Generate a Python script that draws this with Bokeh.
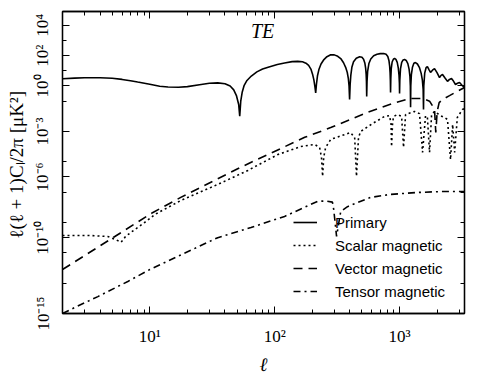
from bokeh.plotting import figure
from bokeh.models import LogAxis, FixedTicker, CustomJSTickFormatter, Label, Range1d
from bokeh.embed import file_html
from bokeh.resources import INLINE

# ---------------- data ----------------
ELL_PRIMARY = [2, 2.5, 3, 4, 5, 6, 7, 8, 10, 12, 14, 17, 20, 25, 30, 35, 40, 44, 47, 49.5, 51.5, 52.5,
               53.5, 55, 57, 60, 65, 72, 80, 90, 105, 120, 138, 153, 167, 178, 187, 195, 201, 206, 210, 213,
               216, 220, 226, 235, 248, 262, 281, 300, 320, 340, 356, 370, 381, 389, 394, 398,
               402, 407, 415, 428, 450, 479, 500, 515, 527, 535, 540, 543, 545.5,
               549, 555, 568, 588, 620, 660, 700, 745, 780, 805, 822, 833, 840, 844, 847,
               851, 858, 872, 892, 912, 935, 958, 977, 990, 997, 1000,
               1005, 1018, 1040, 1068, 1096, 1130, 1165, 1192, 1210, 1220, 1225,
               1230, 1243, 1268, 1302, 1340, 1390, 1440, 1488, 1522, 1545, 1555,
               1563, 1590, 1630, 1671, 1720, 1770, 1835, 1905, 1995, 2089, 2150, 2208, 2320,
               2420, 2510, 2605, 2700, 2805, 2910, 3020, 3150, 3311]
CL_PRIMARY = [3.0, 3.3, 3.5, 3.5, 3.2, 2.7, 2.2, 1.8, 1.3, 0.95, 0.85, 0.82, 0.9, 1.2, 1.5, 1.6, 1.4, 1.0, 0.55, 0.22, 0.06, 0.01,
              0.1, 0.4, 1.1, 2.3, 4.5, 8.5, 13, 18, 26, 33, 40, 42, 39, 32, 23, 13, 6, 2.5, 0.9, 0.35,
              1.3, 4.5, 12, 28, 55, 85, 115, 112, 90, 60, 34, 17, 8, 3, 1.0, 0.13,
              1.2, 5, 17, 40, 68, 85, 78, 58, 33, 15, 6, 2, 0.2,
              2, 9, 30, 60, 97, 122, 135, 138, 122, 88, 48, 20, 7, 2.2, 0.37,
              3, 14, 38, 58, 65, 56, 36, 15, 5, 1.5, 0.32,
              2.5, 14, 36, 52, 56, 48, 30, 13, 4.5, 1.0, 0.04,
              1.0, 5.5, 17, 31, 35, 28, 17, 7, 2.5, 0.6, 0.028,
              1.0, 7, 16, 19, 12, 7.8, 11, 14, 7.5, 3.6, 5, 5.7, 3.2,
              2.0, 2.7, 3.1, 2.1, 1.25, 1.5, 1.7, 1.15, 0.8]

ELL_SCALAR = [2, 3.2, 4.6, 5.25, 5.9, 6.4, 7.05, 8.0, 9.1, 11, 17.7, 35, 61, 106, 161, 209, 229, 237, 242, 247, 256,
              281, 405, 437, 452, 469, 488, 610, 758, 832, 855, 863, 878, 894, 962, 1038, 1076, 1117,
              1318, 1445, 1528, 1614, 1671, 1738, 1805, 1905, 2128, 2290, 2420, 2559, 2661, 2761, 2900,
              3190, 3311]
CL_SCALAR = [1.4e-10, 1.4e-10, 1.2e-10, 7.9e-11, 5e-11, 1.2e-10, 2.2e-10, 4.7e-10, 1e-9, 3.4e-9, 2.8e-8, 3.2e-7,
             2.7e-6, 3.0e-5, 1.0e-4, 1.4e-4, 8.9e-5, 2e-5, 1.1e-6, 2e-5, 8.9e-5,
             3.0e-4, 8.5e-4, 4e-4, 1.1e-6, 4e-4, 1.0e-3, 3.4e-3, 9.8e-3, 1.1e-2, 2.9e-3, 1e-4, 2.9e-3, 9.8e-3,
             1.3e-2, 9.8e-3, 8.9e-5, 1.3e-2,
             2.1e-2, 1.5e-2, 4.2e-5, 1.1e-2, 8.4e-3, 4.2e-5, 1.3e-2, 2.1e-2, 1.1e-2, 8.4e-3, 6.2e-3, 1.4e-5,
             2.9e-3, 4.2e-5, 8.4e-3, 2.8e-2, 3.3e-2]

ELL_VECTOR = [2, 4.6, 10.6, 17.7, 55, 174, 281, 552, 880, 1225, 1528, 1738, 1905, 1950, 2000, 2075, 2208,
              2512, 2900, 3311]
CL_VECTOR = [7.9e-13, 6e-11, 4.6e-9, 4.5e-8, 4.9e-6, 4.1e-4, 1.8e-3, 1.8e-2, 7.1e-2, 0.15, 0.15, 0.1, 0.03,
             8.5e-4, 0.02, 0.08, 0.13, 0.23, 0.44, 0.8]

ELL_TENSOR = [2, 2.51, 3.84, 6.67, 10, 35, 64.6, 120, 221, 260, 290, 297, 313, 338, 383, 585, 843, 1390,
              2208, 3311]
CL_TENSOR = [1e-15, 2.5e-15, 1.3e-14, 1.3e-13, 7.9e-13, 1.0e-10, 4.7e-10, 2.5e-9, 2.5e-8, 2.6e-8, 2.2e-8,
             7.2e-9, 1.2e-10, 5.4e-9, 1.1e-8, 4.5e-8, 7.1e-8, 9.5e-8, 1.1e-7, 1.1e-7]

X_TICKS = [10, 100, 1000]
X_TICK_LABELS = ["10¹", "10²", "10³"]
X_MINOR = [2, 3, 4, 5, 6, 7, 8, 9, 20, 30, 40, 50, 60, 70, 80, 90,
           200, 300, 400, 500, 600, 700, 800, 900, 2000, 3000]
Y_TICKS = [1e4, 1e2, 1e0, 1e-3, 1e-6, 1e-10, 1e-15]
Y_TICK_LABELS = ["10⁴", "10²", "10⁰", "10⁻³", "10⁻⁶", "10⁻¹⁰", "10⁻¹⁵"]
Y_MINOR = [1e4, 1e3, 1e2, 1e1, 1e0, 1e-1, 1e-3, 1e-5, 1e-7, 1e-9, 1e-11, 1e-13, 1e-15]

X_RANGE = (2, 3311)
Y_RANGE = (1e-15, 8.1e4)

SERIF = "Liberation Serif"
SANS = "Liberation Sans"

FMT_CODE = """
for (let i = 0; i < tvals.length; i++) {
  if (Math.abs(Math.log10(tvals[i]) - Math.log10(tick)) < 1e-6) { return tlabels[i]; }
}
return "";
"""

p = figure(x_axis_type="log", y_axis_type="log",
           x_range=Range1d(*X_RANGE), y_range=Range1d(*Y_RANGE),
           frame_width=402, frame_height=302,
           min_border_left=62, min_border_right=4, min_border_top=11, min_border_bottom=46,
           output_backend="svg", toolbar_location=None)

p.xgrid.visible = False
p.ygrid.visible = False
p.outline_line_color = "black"
p.outline_line_width = 1.3
p.outline_line_alpha = 1.0
p.background_fill_color = "white"
p.border_fill_color = "white"

xt = FixedTicker(ticks=X_TICKS, minor_ticks=X_MINOR)
yt = FixedTicker(ticks=Y_TICKS, minor_ticks=Y_MINOR)


def style_axis(ax):
    ax.axis_line_color = "black"
    ax.axis_line_width = 1.3
    ax.major_tick_in = 7
    ax.major_tick_out = 0
    ax.minor_tick_in = 4
    ax.minor_tick_out = 0
    ax.major_tick_line_color = "black"
    ax.minor_tick_line_color = "black"
    ax.major_tick_line_width = 1
    ax.minor_tick_line_width = 1
    ax.major_label_text_color = "black"
    ax.axis_label_text_color = "black"


xa = p.below[0]
xa.ticker = xt
xa.formatter = CustomJSTickFormatter(args=dict(tvals=X_TICKS, tlabels=X_TICK_LABELS), code=FMT_CODE)
style_axis(xa)
xa.major_label_text_font = SERIF
xa.major_label_text_font_size = "17px"
xa.major_label_standoff = 13
xa.axis_label = "ℓ"
xa.axis_label_text_font = SERIF
xa.axis_label_text_font_style = "italic"
xa.axis_label_text_font_size = "19px"
xa.axis_label_standoff = 5

ya = p.left[0]
ya.ticker = yt
ya.formatter = CustomJSTickFormatter(args=dict(tvals=Y_TICKS, tlabels=Y_TICK_LABELS), code=FMT_CODE)
style_axis(ya)
ya.major_label_text_font = SERIF
ya.major_label_text_font_size = "17px"
ya.major_label_orientation = "vertical"
ya.major_label_standoff = 10
ya.axis_label = "ℓ(ℓ + 1)Cₗ/2π  [μK²]"
ya.axis_label_text_font = SERIF
ya.axis_label_text_font_style = "normal"
ya.axis_label_text_font_size = "19px"
ya.axis_label_standoff = 4

top = LogAxis(ticker=xt, major_label_text_font_size="1px", major_label_text_alpha=0,
              major_label_standoff=0)
style_axis(top)
p.add_layout(top, "above")
right = LogAxis(ticker=yt, major_label_text_font_size="1px", major_label_text_alpha=0,
                major_label_standoff=0)
style_axis(right)
p.add_layout(right, "right")

p.line(ELL_PRIMARY, CL_PRIMARY, line_color="black", line_width=1.6, legend_label="Primary")
p.line(ELL_SCALAR, CL_SCALAR, line_color="black", line_width=1.6, line_dash="2 3",
       legend_label="Scalar magnetic")
p.line(ELL_VECTOR, CL_VECTOR, line_color="black", line_width=1.6, line_dash="9 6",
       legend_label="Vector magnetic")
p.line(ELL_TENSOR, CL_TENSOR, line_color="black", line_width=1.6, line_dash="7 4 2 4",
       legend_label="Tensor magnetic")

lg = p.legend[0]
lg.location = (231, 12)
lg.background_fill_alpha = 0
lg.border_line_alpha = 0
lg.padding = 0
lg.margin = 0
lg.spacing = 3
lg.glyph_width = 24
lg.glyph_height = 20
lg.label_height = 20
lg.label_standoff = 18
lg.label_text_font = SANS
lg.label_text_font_size = "15px"
lg.label_text_color = "black"

p.add_layout(Label(x=80, y=3900, text="TE", text_font=SERIF, text_font_style="italic",
                   text_font_size="20px", text_color="black",
                   text_align="center", text_baseline="middle"))

open("out.html", "w").write(file_html(p, INLINE))
